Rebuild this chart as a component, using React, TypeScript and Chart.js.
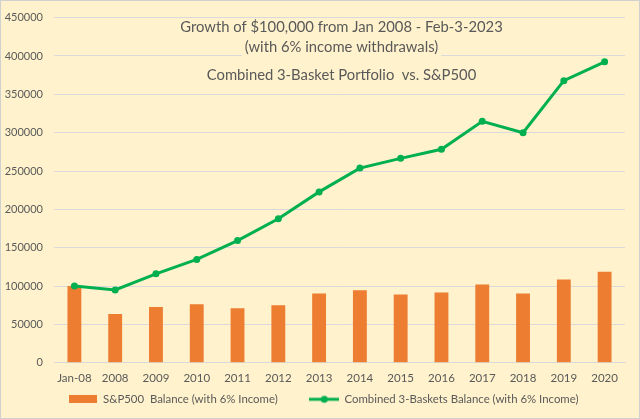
import React, { useEffect, useRef } from "react";
import { Chart, registerables } from "chart.js";

Chart.register(...registerables);

const categories = ["Jan-08", "2008", "2009", "2010", "2011", "2012", "2013", "2014", "2015", "2016", "2017", "2018", "2019", "2020"];
const sp500Balance = [100000, 63600, 72900, 76300, 71200, 75000, 90300, 94500, 89000, 91500, 102100, 90300, 108500, 118600];
const combinedBalance = [100000, 95000, 116000, 134700, 159300, 187700, 222800, 253800, 266500, 278400, 314800, 300000, 367800, 392400];
const titleLines = [
  "Growth of $100,000 from Jan 2008 - Feb-3-2023",
  "(with 6% income withdrawals)",
  "Combined 3-Basket Portfolio  vs. S&P500",
];
const seriesNames = ["S&P500  Balance (with 6% Income)", "Combined 3-Baskets Balance (with 6% Income)"];

const FONT = "Lato";
const TEXT = "#595959";
const ORANGE = "#ED7D31";
const GREEN = "#00B050";
const BG = "#FFF2CC";
const GRID = "#D9D9D9";

function makeBarIcon() {
  const c = document.createElement("canvas");
  c.width = 28;
  c.height = 8;
  const ctx = c.getContext("2d")!;
  ctx.fillStyle = ORANGE;
  ctx.fillRect(0, 0, 28, 8);
  return c;
}
function makeLineIcon() {
  const c = document.createElement("canvas");
  c.width = 30;
  c.height = 10;
  const ctx = c.getContext("2d")!;
  ctx.strokeStyle = GREEN;
  ctx.lineWidth = 3;
  ctx.beginPath();
  ctx.moveTo(0, 5);
  ctx.lineTo(30, 5);
  ctx.stroke();
  ctx.fillStyle = GREEN;
  ctx.beginPath();
  ctx.arc(15, 5, 3.5, 0, Math.PI * 2);
  ctx.fill();
  return c;
}

const bgPlugin = {
  id: "bgPlugin",
  beforeDraw(chart: any) {
    const { ctx, width, height } = chart;
    ctx.save();
    ctx.fillStyle = BG;
    ctx.fillRect(0, 0, width, height);
    ctx.strokeStyle = "#D0D0D0";
    ctx.lineWidth = 1;
    ctx.strokeRect(0.5, 0.5, width - 1, height - 1);
    ctx.restore();
  },
};

const titlePlugin = {
  id: "titlePlugin",
  beforeDatasetsDraw(chart: any) {
    const { ctx, chartArea } = chart;
    const cx = (chartArea.left + chartArea.right) / 2 + 2;
    const ys = [27, 47, 75];
    ctx.save();
    ctx.font = `14.8px ${FONT}`;
    ctx.textAlign = "center";
    ctx.textBaseline = "middle";
    titleLines.forEach((t, i) => {
      const w = ctx.measureText(t).width;
      ctx.fillStyle = BG;
      ctx.fillRect(cx - w / 2 - 3, ys[i] - 9, w + 6, 18);
      ctx.fillStyle = TEXT;
      ctx.fillText(t, cx, ys[i]);
    });
    ctx.restore();
  },
};

export default function App() {
  const ref = useRef<HTMLCanvasElement>(null);
  useEffect(() => {
    if (!ref.current) return;
    const barIcon = makeBarIcon();
    const lineIcon = makeLineIcon();
    const chart = new Chart(ref.current, {
      type: "bar",
      data: {
        labels: categories,
        datasets: [
          {
            type: "bar",
            label: seriesNames[0],
            data: sp500Balance,
            backgroundColor: ORANGE,
            borderWidth: 0,
            categoryPercentage: 1,
            barPercentage: 0.34,
            order: 2,
          } as any,
          {
            type: "line",
            label: seriesNames[1],
            data: combinedBalance,
            borderColor: GREEN,
            backgroundColor: GREEN,
            borderWidth: 3,
            pointRadius: 3.5,
            pointBackgroundColor: GREEN,
            pointBorderWidth: 0,
            tension: 0,
            order: 1,
          } as any,
        ],
      },
      options: {
        responsive: true,
        maintainAspectRatio: false,
        animation: false,
        layout: { padding: { left: 0, right: 15, top: 8, bottom: 4 } },
        plugins: {
          tooltip: { enabled: false },
          title: { display: false },
          legend: {
            display: true,
            position: "bottom",
            fullSize: false,
            labels: {
              usePointStyle: true,
              pointStyleWidth: 29,
              boxHeight: 10,
              padding: 0,
              color: TEXT,
              font: { family: FONT, size: 11.4 },
              generateLabels: () => [
                { text: seriesNames[0] + "           ", pointStyle: barIcon, fillStyle: ORANGE, strokeStyle: ORANGE, lineWidth: 0, datasetIndex: 0, fontColor: TEXT } as any,
                { text: seriesNames[1] + "           ", pointStyle: lineIcon, fillStyle: GREEN, strokeStyle: GREEN, lineWidth: 0, datasetIndex: 1, fontColor: TEXT } as any,
              ],
            },
          },
        },
        scales: {
          x: {
            grid: { display: false, drawTicks: false },
            border: { display: true, color: GRID, width: 1 },
            ticks: { color: TEXT, font: { family: FONT, size: 11.5 }, padding: 8.5, maxRotation: 0, autoSkip: false },
          },
          y: {
            min: 0,
            max: 450000,
            ticks: {
              stepSize: 50000,
              color: TEXT,
              font: { family: FONT, size: 11 },
              padding: 11,
              callback: (v: any) => String(v),
            },
            grid: { color: GRID, drawTicks: false, lineWidth: 1 },
            border: { display: false },
            afterFit: (s: any) => { s.width = 54; },
          },
        },
      },
      plugins: [bgPlugin, titlePlugin],
    });
    return () => chart.destroy();
  }, []);
  return (
    <div style={{ position: "fixed", left: 0, top: 0, width: 640, height: 419 }}>
      <canvas ref={ref} />
    </div>
  );
}
